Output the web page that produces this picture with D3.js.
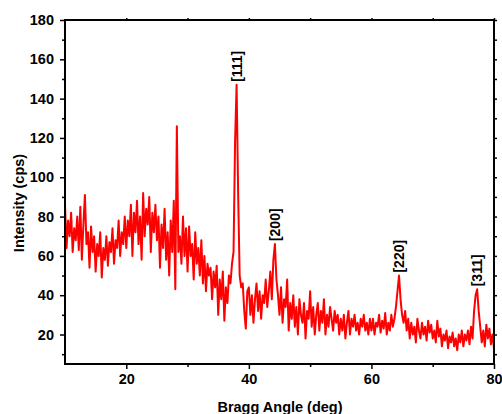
<!DOCTYPE html>
<html>
<head>
<meta charset="utf-8">
<script src="https://cdn.jsdelivr.net/npm/d3@7"></script>
<style>
  body { margin: 0; background: #fff; }
  svg { display: block; font-family: "Liberation Sans", Arial, sans-serif; }
</style>
</head>
<body>
<div id="chart"></div>
<script>
const startAngle = 10;
const angleStep = 0.25;
const intensity = [
  86, 64, 78, 70, 82, 62, 74, 68, 80, 63, 85, 58, 76, 91, 66, 72, 54, 75, 62, 70,
  52, 66, 60, 72, 49, 64, 58, 70, 55, 67, 62, 74, 56, 68, 64, 78, 60, 72, 66, 80,
  64, 78, 70, 86, 60, 82, 72, 88, 66, 80, 58, 92, 70, 84, 76, 90, 62, 82, 72, 86,
  68, 80, 54, 76, 64, 84, 58, 72, 50, 78, 62, 88, 43, 126, 62, 70, 56, 80, 60, 74,
  52, 75, 60, 66, 48, 72, 56, 64, 50, 68, 46, 60, 42, 56, 50, 54, 38, 52, 44, 55,
  30, 48, 38, 52, 27, 44, 36, 50, 46, 56, 62, 118, 147, 92, 50, 44, 46, 32, 23, 42,
  44, 30, 40, 26, 38, 46, 32, 42, 28, 40, 36, 48, 34, 42, 52, 38, 58, 66, 48, 40,
  30, 44, 26, 38, 34, 48, 22, 36, 28, 40, 24, 34, 20, 38, 30, 26, 36, 18, 32, 28,
  42, 24, 34, 20, 30, 36, 22, 32, 26, 38, 20, 30, 24, 34, 28, 22, 32, 26, 30, 20,
  28, 22, 30, 18, 26, 32, 20, 28, 24, 30, 22, 26, 20, 28, 24, 30, 22, 26, 20, 28,
  22, 28, 20, 26, 24, 30, 21, 27, 23, 31, 20, 26, 22, 30, 24, 28, 34, 42, 50, 38,
  30, 26, 32, 22, 28, 18, 26, 20, 24, 16, 28, 22, 18, 26, 20, 24, 17, 27, 21, 25,
  18, 22, 16, 27, 19, 23, 14, 20, 17, 22, 13, 19, 16, 21, 14, 18, 12, 20, 16, 22,
  14, 20, 17, 22, 15, 24, 18, 32, 40, 43, 32, 24, 16, 22, 14, 25, 18, 23, 15, 20, 13
];

const peakLabels = ["[111]", "[200]", "[220]", "[311]"];
const peakAngles = [38.05, 44.25, 64.5, 77.25];
const peakHeights = [147, 66, 50, 43];

const xTicks = [20, 40, 60, 80];
const xMinorTicks = [30, 50, 70];
const yTicks = [20, 40, 60, 80, 100, 120, 140, 160, 180];
const yMinorTicks = [10, 30, 50, 70, 90, 110, 130, 150, 170];

const width = 502, height = 414;
const margin = { top: 20, right: 8, bottom: 50, left: 65 };

const x = d3.scaleLinear().domain([10, 80]).range([margin.left, width - margin.right]);
const y = d3.scaleLinear().domain([5, 180]).range([height - margin.bottom, margin.top]);

const svg = d3.select("#chart").append("svg")
  .attr("width", width)
  .attr("height", height);

svg.append("clipPath").attr("id", "plot-clip")
  .append("rect")
  .attr("x", x.range()[0]).attr("y", y.range()[1])
  .attr("width", x.range()[1] - x.range()[0])
  .attr("height", y.range()[0] - y.range()[1]);

const points = intensity.map((v, i) => [startAngle + i * angleStep, v]);

const line = d3.line()
  .x(d => x(d[0]))
  .y(d => y(d[1]));

svg.append("path")
  .datum(points)
  .attr("clip-path", "url(#plot-clip)")
  .attr("fill", "none")
  .attr("stroke", "#ff0000")
  .attr("stroke-width", 2)
  .attr("stroke-linejoin", "round")
  .attr("d", line);

// axes
function styleAxis(g) {
  g.select(".domain").remove();
  g.selectAll(".tick line").attr("stroke", "#000").attr("stroke-width", 1.5);
  g.selectAll(".tick text")
    .attr("fill", "#000")
    .attr("font-size", 14.5)
    .attr("font-weight", "bold")
    .attr("font-family", "'Liberation Sans', Arial, sans-serif");
}

svg.append("g")
  .attr("transform", `translate(0,${y.range()[0]})`)
  .call(d3.axisBottom(x).tickValues(xTicks).tickSize(5).tickPadding(5).tickFormat(d3.format("d")))
  .call(styleAxis);
svg.append("g")
  .attr("transform", `translate(0,${y.range()[0]})`)
  .call(d3.axisBottom(x).tickValues(xMinorTicks).tickSize(3).tickFormat(""))
  .call(styleAxis);

svg.append("g")
  .attr("transform", `translate(${x.range()[0]},0)`)
  .call(d3.axisLeft(y).tickValues(yTicks).tickSize(5).tickPadding(6).tickFormat(d3.format("d")))
  .call(styleAxis);
svg.append("g")
  .attr("transform", `translate(${x.range()[0]},0)`)
  .call(d3.axisLeft(y).tickValues(yMinorTicks).tickSize(3).tickFormat(""))
  .call(styleAxis);

// mirrored small ticks on top and right
svg.append("g")
  .attr("transform", `translate(0,${y.range()[1]})`)
  .call(d3.axisTop(x).tickValues(xTicks.concat(xMinorTicks)).tickSize(2).tickFormat(""))
  .call(styleAxis);
svg.append("g")
  .attr("transform", `translate(${x.range()[1]},0)`)
  .call(d3.axisRight(y).tickValues(yTicks.concat(yMinorTicks)).tickSize(3).tickFormat(""))
  .call(styleAxis);

// frame
svg.append("rect")
  .attr("x", x.range()[0]).attr("y", y.range()[1])
  .attr("width", x.range()[1] - x.range()[0])
  .attr("height", y.range()[0] - y.range()[1])
  .attr("fill", "none")
  .attr("stroke", "#000")
  .attr("stroke-width", 2);

// peak labels
svg.append("g")
  .selectAll("text")
  .data(peakLabels)
  .join("text")
  .attr("transform", (d, i) => `translate(${x(peakAngles[i]) + 5},${y(peakHeights[i]) - 3}) rotate(-90)`)
  .attr("font-size", 14)
  .attr("font-weight", "bold")
  .attr("fill", "#000")
  .text(d => d);

// axis titles
svg.append("text")
  .attr("x", 280)
  .attr("y", 412)
  .attr("text-anchor", "middle")
  .attr("font-size", 14.5)
  .attr("font-weight", "bold")
  .text("Bragg Angle (deg)");

svg.append("text")
  .attr("transform", "translate(24,203) rotate(-90)")
  .attr("text-anchor", "middle")
  .attr("font-size", 14.5)
  .attr("font-weight", "bold")
  .text("Intensity (cps)");
</script>
</body>
</html>
